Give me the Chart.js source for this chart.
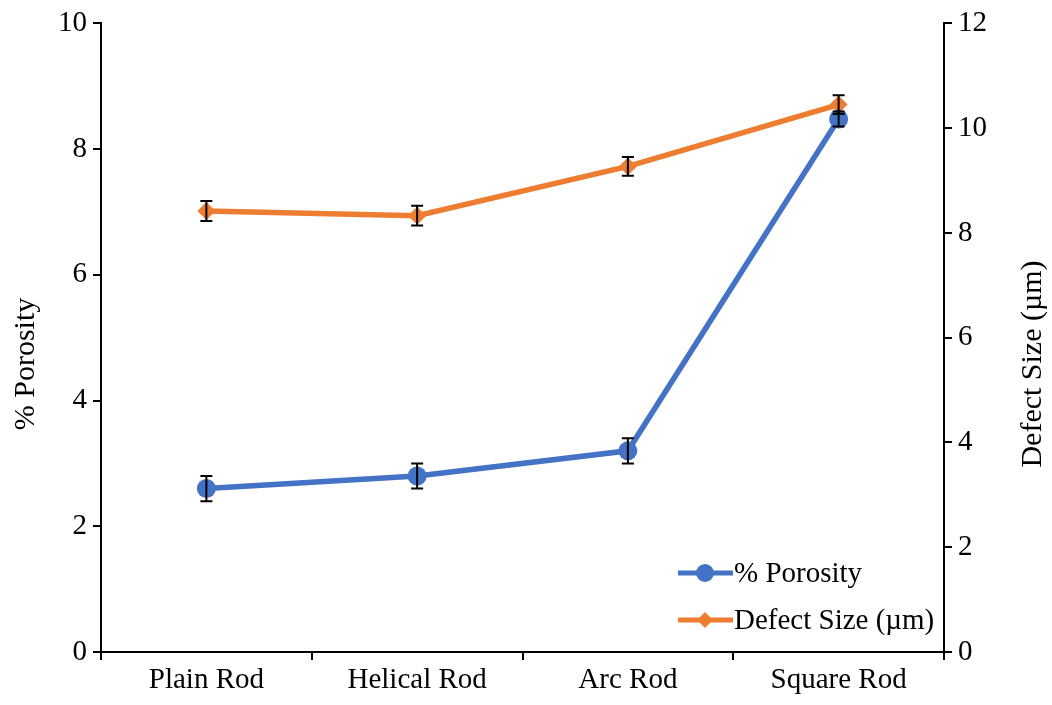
<!DOCTYPE html>
<html>
<head>
<meta charset="utf-8">
<script src="https://cdn.jsdelivr.net/npm/chart.js@4"></script>
<style>
  body { margin: 0; background: #fff; }
  #wrap { width: 1052px; height: 705px; }
</style>
</head>
<body>
<div id="wrap"><canvas id="chart"></canvas></div>
<script>
const categories = ['Plain Rod', 'Helical Rod', 'Arc Rod', 'Square Rod'];
const porosity = [2.6, 2.8, 3.2, 8.48];
const porosityErr = [0.2, 0.2, 0.2, 0.12];
const defectSize = [8.42, 8.33, 9.27, 10.45];
const defectErr = [0.19, 0.19, 0.18, 0.18];

const FONT = 'Liberation Serif';
const FONT_SIZE = 29;
const BLUE = '#4472C4';
const ORANGE = '#ED7D31';

// draw the error bars on top of the markers
const errorBars = {
  id: 'errorBars',
  afterDatasetsDraw(chart) {
    const ctx = chart.ctx;
    chart.data.datasets.forEach((ds, i) => {
      const meta = chart.getDatasetMeta(i);
      const scale = chart.scales[ds.yAxisID];
      ctx.save();
      ctx.strokeStyle = '#000';
      ctx.lineWidth = 2;
      meta.data.forEach((pt, j) => {
        const top = scale.getPixelForValue(ds.data[j] + ds.errors[j]);
        const bot = scale.getPixelForValue(ds.data[j] - ds.errors[j]);
        ctx.beginPath();
        ctx.moveTo(pt.x, top); ctx.lineTo(pt.x, bot);
        ctx.moveTo(pt.x - 6, top); ctx.lineTo(pt.x + 6, top);
        ctx.moveTo(pt.x - 6, bot); ctx.lineTo(pt.x + 6, bot);
        ctx.stroke();
      });
      ctx.restore();
    });
  }
};

// axis titles, both read bottom-to-top
const axisTitles = {
  id: 'axisTitles',
  afterDraw(chart) {
    const ctx = chart.ctx;
    ctx.save();
    ctx.fillStyle = '#000';
    ctx.font = '30px "' + FONT + '"';
    ctx.textAlign = 'center';
    ctx.textBaseline = 'middle';
    [['% Porosity', 26], ['Defect Size (µm)', 1033]].forEach(([text, x]) => {
      ctx.save();
      ctx.translate(x, 364);
      ctx.rotate(-Math.PI / 2);
      ctx.fillText(text, 0, 0);
      ctx.restore();
    });
    ctx.restore();
  }
};

// legend sits inside the plot, bottom right
const insideLegend = {
  id: 'insideLegend',
  afterDraw(chart) {
    const ctx = chart.ctx;
    const rows = [
      { label: '% Porosity', color: BLUE, style: 'circle', y: 573 },
      { label: 'Defect Size (µm)', color: ORANGE, style: 'rectRot', y: 620 }
    ];
    ctx.save();
    rows.forEach(r => {
      ctx.strokeStyle = r.color;
      ctx.lineWidth = 5;
      ctx.beginPath();
      ctx.moveTo(678, r.y); ctx.lineTo(733, r.y);
      ctx.stroke();
      ctx.fillStyle = r.color;
      ctx.beginPath();
      if (r.style === 'circle') {
        ctx.arc(705, r.y, 9, 0, Math.PI * 2);
      } else {
        ctx.moveTo(705, r.y - 8); ctx.lineTo(713, r.y);
        ctx.lineTo(705, r.y + 8); ctx.lineTo(697, r.y);
      }
      ctx.fill();
      ctx.fillStyle = '#000';
      ctx.font = FONT_SIZE + 'px "' + FONT + '"';
      ctx.textBaseline = 'middle';
      ctx.fillText(r.label, 734, r.y + 1);
    });
    ctx.restore();
  }
};

new Chart(document.getElementById('chart'), {
  type: 'line',
  data: {
    labels: categories,
    datasets: [{
      label: '% Porosity',
      data: porosity,
      errors: porosityErr,
      borderColor: BLUE,
      backgroundColor: BLUE,
      borderWidth: 5.5,
      pointRadius: 9.5,
      pointStyle: 'circle',
      pointBorderWidth: 0,
      tension: 0,
      yAxisID: 'y'
    }, {
      label: 'Defect Size (µm)',
      data: defectSize,
      errors: defectErr,
      borderColor: ORANGE,
      backgroundColor: ORANGE,
      borderWidth: 5.5,
      pointRadius: 9,
      pointStyle: 'rectRot',
      pointBorderWidth: 0,
      tension: 0,
      yAxisID: 'y1'
    }]
  },
  options: {
    responsive: true,
    maintainAspectRatio: false,
    animation: false,
    layout: { padding: { top: 21, right: 0, left: 0, bottom: 0 } },
    plugins: {
      legend: { display: false },
      tooltip: { enabled: false }
    },
    scales: {
      x: {
        offset: true,
        grid: { offset: true, drawOnChartArea: false, tickLength: 8, color: '#000', lineWidth: 2 },
        border: { color: '#000', width: 2 },
        ticks: { color: '#000', font: { family: FONT, size: FONT_SIZE }, padding: 3 },
        afterFit: s => { s.height = 53; }
      },
      y: {
        position: 'left',
        min: 0, max: 10,
        ticks: { stepSize: 2, color: '#000', font: { family: FONT, size: FONT_SIZE }, padding: 6 },
        grid: { drawOnChartArea: false, tickLength: 8, color: '#000', lineWidth: 2 },
        border: { color: '#000', width: 2 },
        afterFit: s => { s.width = 101; }
      },
      y1: {
        position: 'right',
        min: 0, max: 12,
        ticks: { stepSize: 2, color: '#000', font: { family: FONT, size: FONT_SIZE }, padding: 6 },
        grid: { drawOnChartArea: false, tickLength: 8, color: '#000', lineWidth: 2 },
        border: { color: '#000', width: 2 },
        afterFit: s => { s.width = 108; }
      }
    }
  },
  plugins: [errorBars, axisTitles, insideLegend]
});
</script>
</body>
</html>
